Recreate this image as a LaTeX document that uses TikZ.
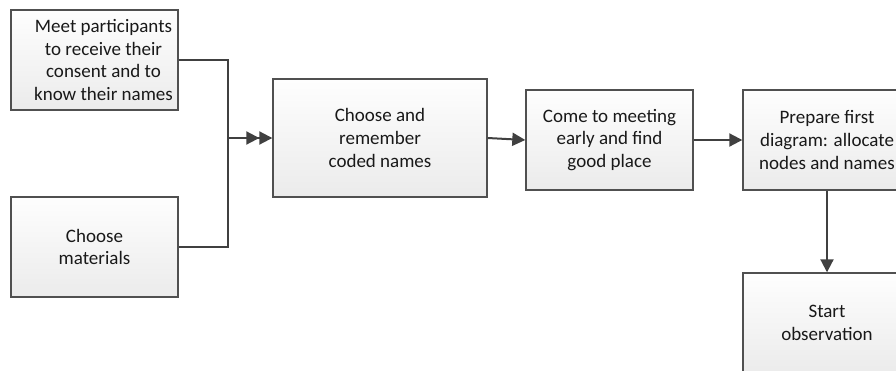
\documentclass[tikz,border=0pt]{standalone}
\usepackage{fontspec}
\setmainfont{Carlito}
\usetikzlibrary{arrows.meta}
\definecolor{linec}{HTML}{404040}
\definecolor{boxline}{HTML}{505050}
\definecolor{topc}{HTML}{FEFEFE}
\definecolor{botc}{HTML}{EBEBEB}
\begin{document}
\begin{tikzpicture}[x=1pt,y=-1pt,
  box/.style={draw=boxline, line width=1.4pt, top color=topc, bottom color=botc,
    minimum width=167pt, minimum height=100pt, inner sep=0pt, align=center,
    font=\fontsize{19}{22.8}\selectfont, text=black!90},
  conn/.style={draw=linec, line width=2pt},
  tip/.style={-{Triangle[length=13pt,width=13pt]}},
  dtip/.style={-{Triangle[length=13pt,width=13pt]Triangle[length=13pt,width=13pt]}}]
\useasboundingbox (0,0) rectangle (896,370);
\clip (0,0) rectangle (896,370);
\node[box] (b1) at (94.5,60) {\hspace*{18pt}Meet participants\\\hspace*{18pt}to receive their\\\hspace*{18pt}consent and to\\\hspace*{18pt}know their names};
\node[box] (b2) at (94.5,247) {Choose\\materials};
\node[box, minimum width=214pt, minimum height=118pt] (b3) at (380,138) {Choose and\\remember\\coded names};
\node[box] (b4) at (609.5,140) {Come to meeting\\early and find\\good place};
\node[box, minimum width=168pt] (b5) at (827,140) {Prepare first\\diagram: allocate\\nodes and names};
\node[box, minimum width=168pt] (b6) at (827,323) {Start\\observation};
\coordinate (j) at (228,138);
\draw[conn] (b1.east) -| (j) |- (b2.east);
\draw[conn, dtip] (j) -- (b3.west);
\draw[conn, tip] (b3.east) -- (b4.west);
\draw[conn, tip] (b4.east) -- (b5.west);
\draw[conn, tip] (b5.south) -- (b6.north);
\end{tikzpicture}
\end{document}
